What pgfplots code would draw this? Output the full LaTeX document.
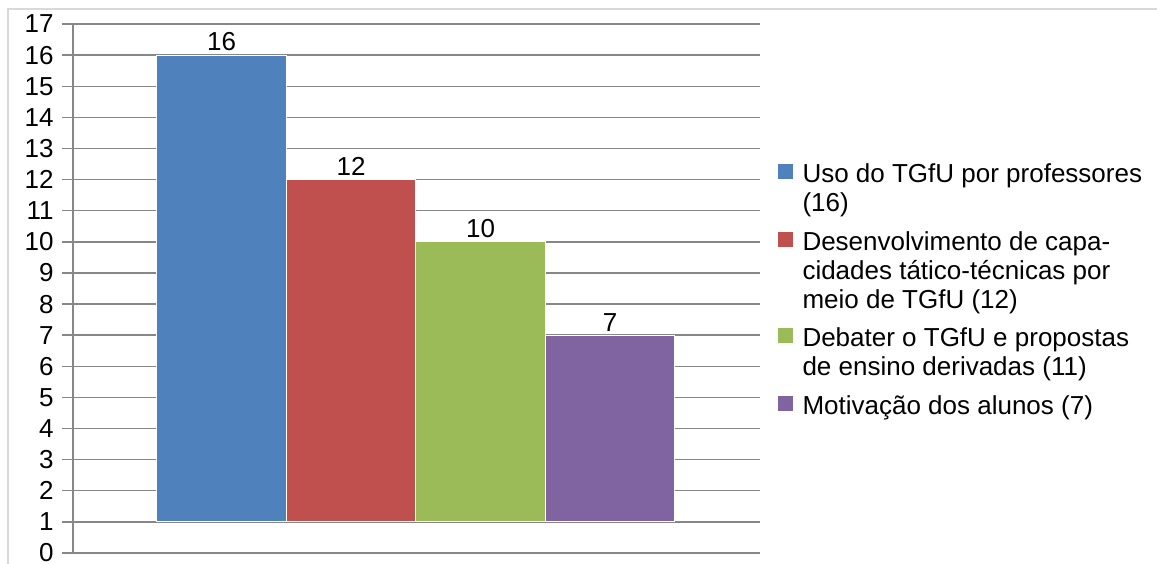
\documentclass[border=0pt]{standalone}
\usepackage{pgfplots}
\pgfplotsset{compat=1.18}
\usepackage{fontspec}
\setmainfont{Liberation Sans}

\definecolor{barblue}{HTML}{4F81BD}
\definecolor{barred}{HTML}{C0504D}
\definecolor{bargreen}{HTML}{9BBB59}
\definecolor{barpurple}{HTML}{8064A2}
\definecolor{gridgray}{HTML}{878787}
\definecolor{framegray}{HTML}{D9D9D9}

\newcommand{\chartfont}{\fontsize{13}{14.5}\selectfont}
% multi-line legend text, aligned on its first line
\newcommand{\entry}[1]{\begin{tabular}[t]{@{}l@{}}#1\end{tabular}}

\begin{document}
\begin{tikzpicture}
  \clip[use as bounding box] (0,0) rectangle (578.5pt,281.5pt);
  % outer chart frame
  \draw[framegray, line width=0.8pt] (4pt,-10pt) -- (4pt,277pt) -- (600pt,277pt);
  \begin{axis}[
    at={(36.5pt,5pt)}, anchor=south west,
    scale only axis,
    width=343.5pt, height=264.5pt,
    xmin=-0.147, xmax=5.158,
    ymin=0, ymax=17,
    ytick={0,1,...,17},
    xtick=\empty,
    axis x line*=bottom, axis y line*=left,
    axis line style={draw=gridgray, line width=0.7pt},
    ymajorgrids,
    grid style={draw=gridgray, line width=0.7pt},
    tick align=outside,
    major tick length=5.5pt,
    tick style={draw=gridgray, line width=0.7pt},
    ytick pos=left,
    /pgf/number format/assume math mode=true,
    tick label style={font=\chartfont},
    yticklabel style={anchor=east, inner sep=0pt, xshift=-4pt},
    legend image code/.code={\path[#1, draw=none] (0pt,1.75pt) rectangle (7.25pt,9.25pt);},
    legend style={
      at={(axis description cs:1.0262,0.7391)}, anchor=north west,
      draw=none, fill=none, inner sep=0pt, outer sep=0pt,
      column sep=5pt, row sep=4.85pt,
      font=\chartfont,
      nodes={inner sep=0pt},
      cells={anchor=base west},
    },
  ]
    % bars rise from the line at 1
    \addplot[fill=barblue, draw=white, line width=0.5pt]
      coordinates {(0.5,1) (0.5,16) (1.5,16) (1.5,1)} -- cycle;
    \addlegendentry[text height=10.15pt, text depth=18.85pt]
      {\entry{Uso do TGfU por professores\\(16)}}
    \addplot[fill=barred, draw=white, line width=0.5pt]
      coordinates {(1.5,1) (1.5,12) (2.5,12) (2.5,1)} -- cycle;
    \addlegendentry[text height=10.15pt, text depth=33.35pt]
      {\entry{Desenvolvimento de capa-\\cidades tático-técnicas por\\meio de TGfU (12)}}
    \addplot[fill=bargreen, draw=white, line width=0.5pt]
      coordinates {(2.5,1) (2.5,10) (3.5,10) (3.5,1)} -- cycle;
    \addlegendentry[text height=10.15pt, text depth=18.85pt]
      {\entry{Debater o TGfU e propostas\\de ensino derivadas (11)}}
    \addplot[fill=barpurple, draw=white, line width=0.5pt]
      coordinates {(3.5,1) (3.5,7) (4.5,7) (4.5,1)} -- cycle;
    \addlegendentry[text height=10.15pt, text depth=4.35pt]
      {\entry{Motivação dos alunos (7)}}
    % value labels above the bars
    \addplot[draw=none, mark=none, forget plot, point meta=y,
      nodes near coords,
      nodes near coords style={anchor=south, inner sep=0pt, yshift=1.75pt, font=\chartfont, text=black}]
      coordinates {(1,16) (2,12) (3,10) (4,7)};
  \end{axis}
\end{tikzpicture}
\end{document}
